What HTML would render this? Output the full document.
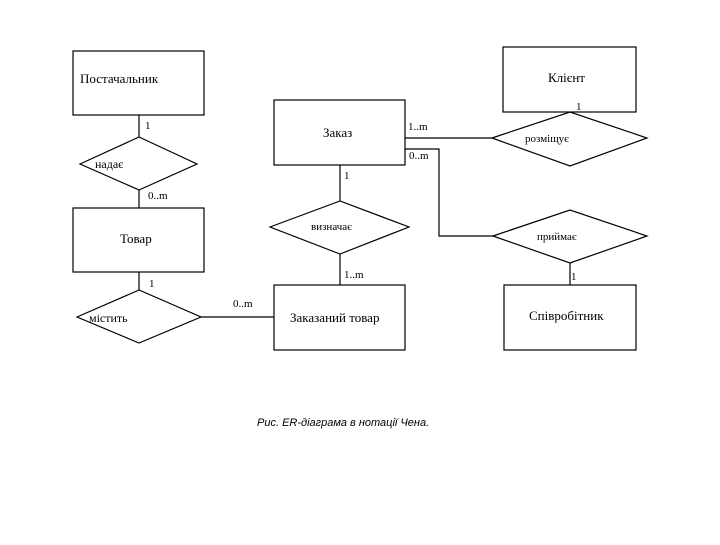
<!DOCTYPE html>
<html><head><meta charset="utf-8"><style>
html,body{margin:0;padding:0;background:#fff}
svg text{font-family:"Liberation Serif",serif;fill:#000}
</style></head><body>
<svg width="720" height="540" xmlns="http://www.w3.org/2000/svg">
<g fill="none" stroke="#000" stroke-width="1.2">
<rect x="73" y="51" width="131" height="64"/>
<rect x="274" y="100" width="131" height="65"/>
<rect x="73" y="208" width="131" height="64"/>
<rect x="274" y="285" width="131" height="65"/>
<rect x="503" y="47" width="133" height="65"/>
<rect x="504" y="285" width="132" height="65"/>
<polygon points="80,164 139,137 197,164 139,190"/>
<polygon points="270,227 340,201 409,227 340,254"/>
<polygon points="77,317 139,290 201,317 139,343"/>
<polygon points="492,138 570,112 647,138 570,166"/>
<polygon points="493,236 570,210 647,236 570,263"/>
<line x1="139" y1="115" x2="139" y2="137"/>
<line x1="139" y1="190" x2="139" y2="208"/>
<line x1="139" y1="272" x2="139" y2="290"/>
<line x1="340" y1="165" x2="340" y2="201"/>
<line x1="340" y1="254" x2="340" y2="285"/>
<line x1="201" y1="317" x2="274" y2="317"/>
<line x1="405" y1="138" x2="492" y2="138"/>
<polyline points="405,149 439,149 439,236 493,236"/>
<line x1="570" y1="112" x2="570" y2="112"/>
<line x1="570" y1="263" x2="570" y2="285"/>
</g>
<g font-size="13">
<text x="80" y="83">Постачальник</text>
<text x="323" y="137">Заказ</text>
<text x="120" y="243">Товар</text>
<text x="290" y="322">Заказаний товар</text>
<text x="548" y="82">Клієнт</text>
<text x="529" y="320">Співробітник</text>
</g>
<g font-size="12">
<text x="95" y="168">надає</text>
<text x="89" y="322">містить</text>
</g>
<g font-size="11">
<text x="311" y="230">визначає</text>
<text x="525" y="142">розміщує</text>
<text x="537" y="240">приймає</text>
<text x="145" y="129">1</text>
<text x="148" y="199">0..m</text>
<text x="344" y="179">1</text>
<text x="344" y="278">1..m</text>
<text x="149" y="287">1</text>
<text x="233" y="307">0..m</text>
<text x="408" y="130">1..m</text>
<text x="409" y="159">0..m</text>
<text x="576" y="110">1</text>
<text x="571" y="280">1</text>
</g>
<text x="257" y="426" font-size="11" font-style="italic" style="font-family:'Liberation Sans',sans-serif">Рис. ER-діаграма в нотації Чена.</text>
</svg>
</body></html>
